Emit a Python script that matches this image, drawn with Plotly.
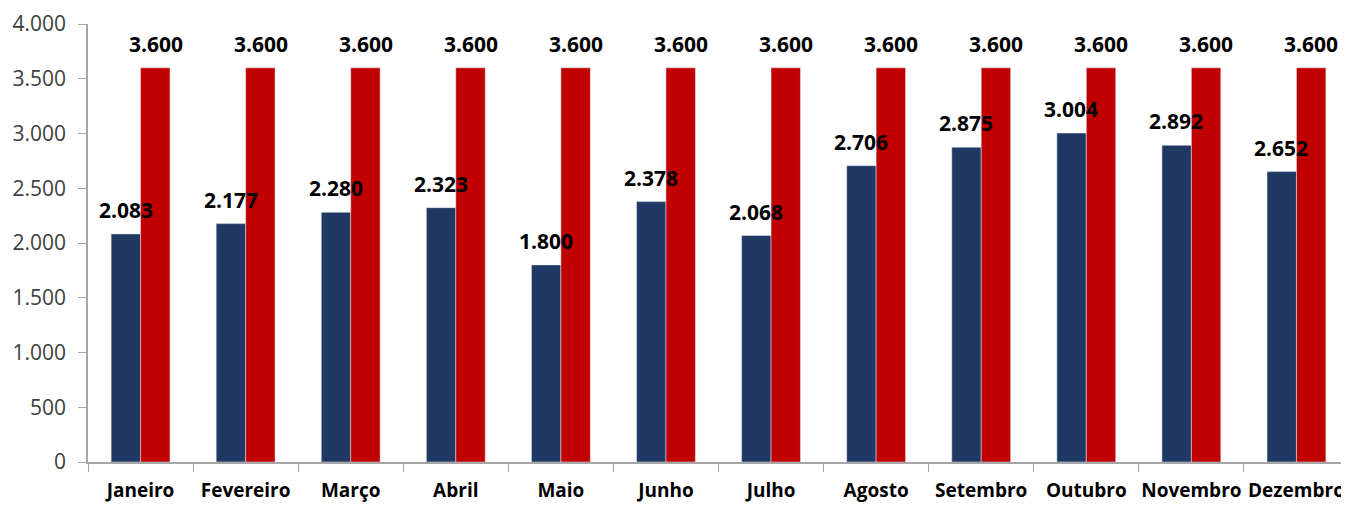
import plotly.graph_objects as go

months = ["Janeiro", "Fevereiro", "Março", "Abril", "Maio", "Junho", "Julho",
          "Agosto", "Setembro", "Outubro", "Novembro", "Dezembro"]
realizado = [2083, 2177, 2280, 2323, 1800, 2378, 2068, 2706, 2875, 3004, 2892, 2652]
meta = [3600] * 12
y_ticks = [0, 500, 1000, 1500, 2000, 2500, 3000, 3500, 4000]

BLUE = "#203864"
RED = "#C00000"
FONT = "Open Sans"

def fmt(v):
    return f"{v:,}".replace(",", ".")

fig = go.Figure()
fig.add_trace(go.Bar(x=months, y=realizado, marker_color=BLUE, name="Realizado"))
fig.add_trace(go.Bar(x=months, y=meta, marker_color=RED, name="Meta"))

annotations = []
for m, v in zip(months, realizado):
    annotations.append(dict(x=m, y=v, text=fmt(v), showarrow=False, xshift=-15, yshift=24,
                            yanchor="middle", font=dict(family=FONT, size=21, color="black", weight="bold")))
for m, v in zip(months, meta):
    annotations.append(dict(x=m, y=v, text=fmt(v), showarrow=False, xshift=15, yshift=24,
                            yanchor="middle", font=dict(family=FONT, size=21, color="black", weight="bold")))

fig.update_layout(
    width=1341, height=497,
    margin=dict(l=80, r=0, t=16, b=43),
    paper_bgcolor="white", plot_bgcolor="white",
    barmode="group", bargap=0.44, bargroupgap=0,
    showlegend=False,
    separators=",.",
    annotations=annotations,
)
fig.update_yaxes(range=[0, 4000], tickvals=y_ticks, tickformat=",d", showgrid=False, automargin=False,
                 showline=True, linecolor="#a6a6a6", linewidth=1.5, ticks="outside", ticklen=8,
                 ticklabelstandoff=8,
                 tickcolor="#a6a6a6", tickfont=dict(family=FONT, size=21, color="#404040"), zeroline=False)
fig.update_xaxes(showgrid=False, showline=True, linecolor="#a6a6a6", linewidth=1.5, ticks="outside",
                 tickson="boundaries", ticklen=8, tickcolor="#a6a6a6", automargin=False,
                 ticklabelstandoff=10, tickangle=0,
                 tickfont=dict(family=FONT, size=19, color="black", weight="bold"))

fig.write_html("out.html")
